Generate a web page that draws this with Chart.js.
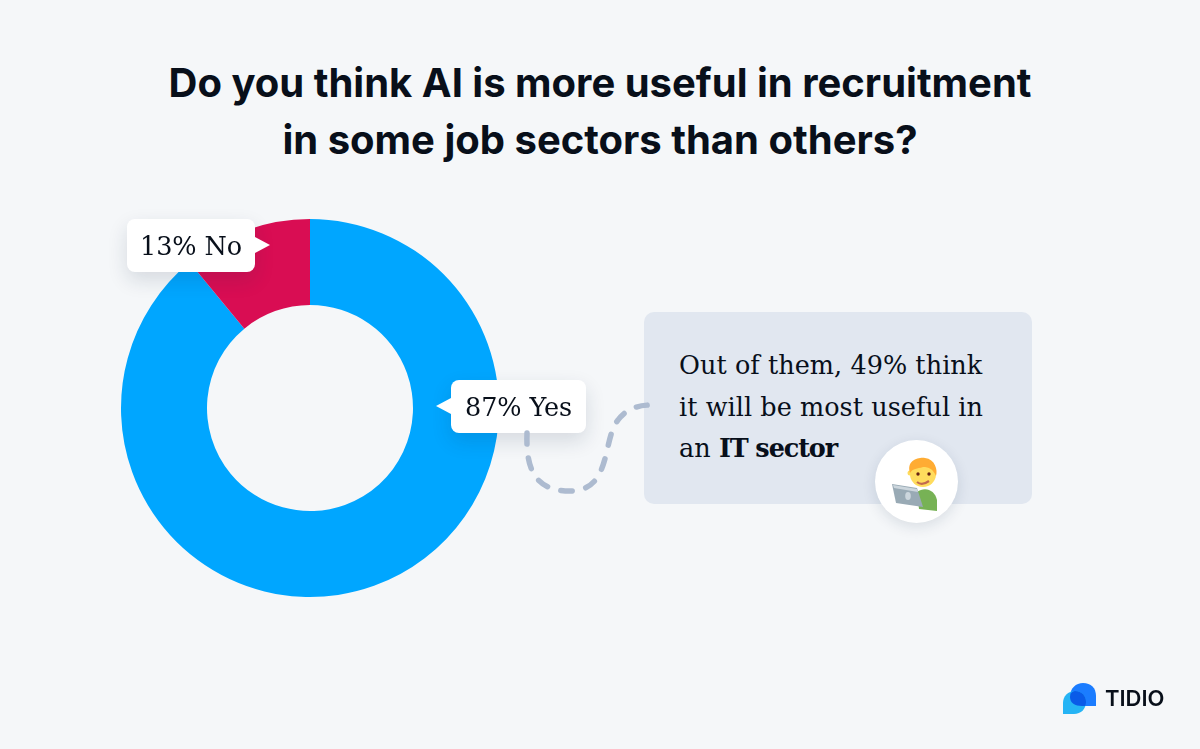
<!DOCTYPE html>
<html>
<head>
<meta charset="utf-8">
<script src="https://cdn.jsdelivr.net/npm/chart.js@4"></script>
<style>
  html, body { margin: 0; padding: 0; }
  body { width: 1200px; height: 749px; background: #f5f7f9; position: relative; overflow: hidden; }
  #title { position: absolute; left: 0; top: 54px; width: 1200px; text-align: center; font: 700 40px/57px Inter, sans-serif; color: #080f1a; }
  #donut { position: absolute; left: 110px; top: 208px; }
  .tag { position: absolute; height: 53px; background: #fff; border-radius: 8px; font: 25.5px/54px "DejaVu Serif", serif; letter-spacing: -.1px; color: #080f1a; text-align: center; box-shadow: 0 8px 20px rgba(20,40,70,.14); }
  .tag:after { content: ""; position: absolute; top: 18px; border: 8px solid transparent; }
  #noTag { left: 127px; top: 219px; width: 128px; }
  #noTag:after { left: 100%; border-left: 15px solid #fff; border-right: 0; }
  #yesTag { left: 451px; top: 380px; width: 135px; }
  #yesTag:after { right: 100%; border-right: 15px solid #fff; border-left: 0; }
  #note { position: absolute; left: 644px; top: 312px; width: 388px; height: 192px; background: #e1e7f0; border-radius: 10px; }
  #note p { margin: 0; position: absolute; left: 35px; top: 33px; font: 25.5px/41.5px "DejaVu Serif", serif; letter-spacing: .05px; color: #080f1a; white-space: nowrap; }
  #note b { letter-spacing: -1.1px; }
  #badge { position: absolute; left: 875px; top: 440px; width: 83px; height: 83px; border-radius: 50%; background: #fff; box-shadow: 0 4px 14px rgba(20,40,70,.12); }
  svg { position: absolute; }
  #brand { position: absolute; left: 1105px; top: 684px; font: 600 22px/28px Inter, sans-serif; color: #080f1a; }
</style>
</head>
<body>
<div id="title"></div>
<canvas id="donut" width="400" height="400"></canvas>
<div class="tag" id="yesTag"></div>
<div class="tag" id="noTag"></div>
<div id="note"><p>Out of them, 49% think<br>it will be most useful in<br>an <b>IT sector</b></p></div>
<svg style="left:0;top:0" width="1200" height="749">
  <path d="M527 433 C526 465 532 491 570 491 C612 491 602 440 618 420 C626 409 638 405 651 405" fill="none" stroke="#adbbd0" stroke-width="5.5" stroke-linecap="round" stroke-dasharray="11 14"/>
</svg>
<div id="badge"></div>
<svg style="left:875px;top:440px" width="83" height="83" viewBox="0 0 83 83">
  <path d="M42 52 C50 46 60 50 62 60 L62 71 L44 69 Z" fill="#77b255"/>
  <circle cx="48" cy="34" r="13" fill="#ffdc5d"/>
  <circle cx="35" cy="33" r="2.5" fill="#ffdc5d"/>
  <path d="M35 33 C31 20 44 17 50 18 C60 19 63 30 61 36 C58 29 54 27 48 27 C42 29 38 28 35 33 Z" fill="#ffac33"/>
  <circle cx="43" cy="34" r="1.7" fill="#662113"/><circle cx="54" cy="34" r="1.7" fill="#662113"/>
  <path d="M42 42 Q47 46 54 41" stroke="#c1694f" stroke-width="2.2" fill="none"/>
  <path d="M17 44 L42 48 L48 67 L21 63 Z" fill="#99aab5"/>
  <path d="M18 45 L42 49 L43 52 L19 48 Z" fill="#ccd6dd"/>
  <ellipse cx="33" cy="56" rx="2.8" ry="4" fill="#ccd6dd"/>
</svg>
<svg style="left:1062px;top:682px" width="40" height="34" viewBox="0 0 40 34">
  <path d="M8 15 C8 6 14 1 21 1 C29 1 34 6 34 14 L34 24 L20 24 C13 24 8 21 8 15 Z" fill="#1b7cff"/>
  <path d="M1 32 L1 21 C1 14 6 9 13 9 C20 9 24 14 24 20 C24 27 19 32 12 32 Z" fill="#25b4f5"/>
  <path d="M8.4 11.8 C10 10 11 9 13 9 C20 9 24 14 24 20 C24 21.5 23.8 23 23.2 24 L20 24 C13 24 8 21 8 15 Z" fill="#0a5be8"/>
</svg>
<div id="brand">TIDIO</div>

<script>
const categories = ["Yes", "No"];
const labelPercents = [87, 13];
// wedge sizes: the red one spans about 40 degrees, less than its 13% label
const sliceShares = [89, 11];
const sliceColors = ["#00a6ff", "#d90d53"];
const titleLines = ["Do you think AI is more useful in recruitment", "in some job sectors than others?"];

document.getElementById("title").innerHTML = titleLines.join("<br>");
document.getElementById("yesTag").textContent = labelPercents[0] + "% " + categories[0];
document.getElementById("noTag").textContent = labelPercents[1] + "% " + categories[1];

new Chart(document.getElementById("donut"), {
  type: "doughnut",
  data: {
    labels: categories,
    datasets: [{
      data: sliceShares,
      backgroundColor: sliceColors,
      borderWidth: 0
    }]
  },
  options: {
    responsive: false,
    animation: false,
    cutout: "54.5%",
    layout: { padding: 11 },
    plugins: { legend: { display: false }, tooltip: { enabled: false } }
  }
});
</script>
</body>
</html>
